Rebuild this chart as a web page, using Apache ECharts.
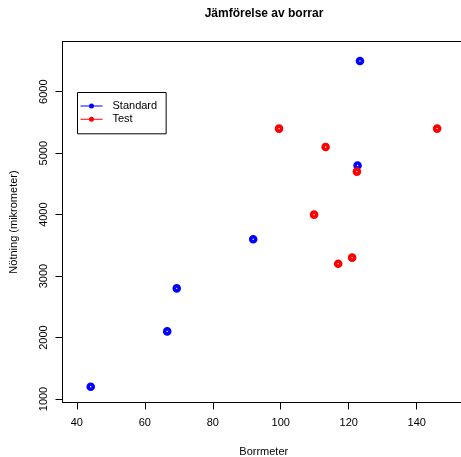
<!DOCTYPE html>
<html>
<head>
<meta charset="utf-8">
<script src="https://cdn.jsdelivr.net/npm/echarts@6/dist/echarts.min.js"></script>
<style>
html,body{margin:0;padding:0;background:#fff;}
#c{width:461px;height:457px;}
</style>
</head>
<body>
<div id="c"></div>
<script>
const standardX = [123.3, 122.6, 91.9, 69.4, 66.6, 44.1];
const standardY = [6500, 4800, 3600, 2800, 2100, 1200];
const testX = [99.5, 146.0, 113.2, 122.4, 109.8, 116.9, 121.0];
const testY = [5400, 5400, 5100, 4700, 4000, 3200, 3300];
const xTicks = [40, 60, 80, 100, 120, 140];
const yTicks = [1000, 2000, 3000, 4000, 5000, 6000];

const FONT = '"Liberation Sans", Arial, Helvetica, sans-serif';
const pair = (xs, ys) => xs.map((x, i) => [x, ys[i]]);
const legendIcon = 'path://M0,2 L22,2 L22,3 L0,3 Z M8.5,2.5 A2.5,2.5 0 1,1 13.5,2.5 A2.5,2.5 0 1,1 8.5,2.5 Z';
const boxLine = {show: true, lineStyle: {color: '#000', width: 1}};

const chart = echarts.init(document.getElementById('c'), null, {renderer: 'canvas'});
chart.setOption({
  animation: false,
  backgroundColor: '#ffffff',
  title: {
    text: 'Jämförelse av borrar',
    left: 264, top: 8, padding: 0, textAlign: 'center',
    textStyle: {fontFamily: FONT, fontSize: 12, fontWeight: 'bold', color: '#000'}
  },
  legend: {
    orient: 'vertical',
    left: 77.5, top: 92.5,
    padding: [7, 9, 8, 3],
    borderColor: '#000', borderWidth: 1,
    itemWidth: 22, itemHeight: 5, itemGap: 0.3,
    icon: legendIcon,
    textStyle: {fontFamily: FONT, fontSize: 11, color: '#000', lineHeight: 13, padding: [0, 0, 0, 5]},
    data: [
      {name: 'Standard', itemStyle: {color: '#0000ff', borderWidth: 0}},
      {name: 'Test', itemStyle: {color: '#ff0000', borderWidth: 0}}
    ]
  },
  grid: {
    left: 62.5, right: -4, top: 41.5, bottom: 54.5,
    show: false,
    containLabel: false,
    outerBoundsMode: 'none'
  },
  xAxis: [{
    type: 'value', min: 35.8, max: 154.2, position: 'bottom',
    name: 'Borrmeter', nameLocation: 'middle', nameGap: 44,
    nameTextStyle: {fontFamily: FONT, fontSize: 11, color: '#000'},
    axisLine: boxLine,
    splitLine: {show: false},
    axisTick: {show: true, length: 7, lineStyle: {color: '#000'}, customValues: xTicks},
    axisLabel: {fontFamily: FONT, fontSize: 11, color: '#000', margin: 15, customValues: xTicks,
      formatter: v => String(v)}
  }, {
    type: 'value', min: 35.8, max: 154.2, position: 'top',
    axisLine: boxLine,
    splitLine: {show: false},
    axisTick: {show: false},
    axisLabel: {show: false}
  }],
  yAxis: {
    type: 'value', min: 943, max: 6817,
    name: 'Nötning (mikrometer)', nameLocation: 'middle', nameGap: 43, nameRotate: 90,
    nameTextStyle: {fontFamily: FONT, fontSize: 11, color: '#000'},
    axisLine: boxLine,
    splitLine: {show: false},
    axisTick: {show: true, length: 7, lineStyle: {color: '#000'}, customValues: yTicks},
    axisLabel: {fontFamily: FONT, fontSize: 11, color: '#000', margin: 13, rotate: 90, customValues: yTicks,
      formatter: v => String(v)}
  },
  series: [
    {
      name: 'Standard', type: 'scatter', data: pair(standardX, standardY),
      symbol: 'circle', symbolSize: 5,
      itemStyle: {color: '#ffffff', borderColor: '#0000ff', borderWidth: 3.6, opacity: 1}
    },
    {
      name: 'Test', type: 'scatter', data: pair(testX, testY),
      symbol: 'circle', symbolSize: 5,
      itemStyle: {color: '#ffffff', borderColor: '#ff0000', borderWidth: 3.6, opacity: 1}
    }
  ]
});
</script>
</body>
</html>
